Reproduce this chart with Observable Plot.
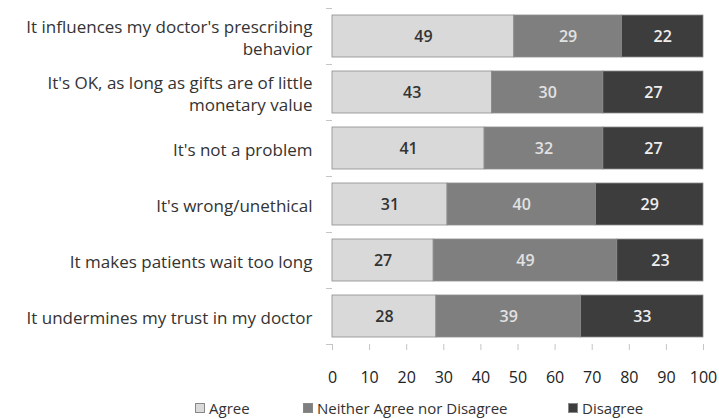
<!DOCTYPE html>
<html>
<head>
<meta charset="utf-8">
<script src="https://cdn.jsdelivr.net/npm/d3@7"></script>
<script src="https://cdn.jsdelivr.net/npm/@observablehq/plot@0.6"></script>
<style>
  html, body { margin: 0; padding: 0; background: #fff; }
  #wrap { position: relative; width: 719px; height: 419px; font-family: "Open Sans", sans-serif; color: #333; }
  #legend { position: absolute; left: 0; top: 398px; width: 719px; height: 20px; font-size: 15px; }
  .item { position: absolute; top: 0; display: flex; align-items: center; height: 20px; }
  .sw { width: 10px; height: 10px; margin-right: 4px; box-sizing: border-box; border: 1px solid #888; }
</style>
</head>
<body>
<div id="wrap"><div id="chart"></div><div id="legend"></div></div>
<script>
const categories = [
  "It influences my doctor's prescribing behavior",
  "It's OK, as long as gifts are of little monetary value",
  "It's not a problem",
  "It's wrong/unethical",
  "It makes patients wait too long",
  "It undermines my trust in my doctor"
];
const categoryLabels = [
  "It influences my doctor's prescribing\nbehavior",
  "It's OK, as long as gifts are of little\nmonetary value",
  "It's not a problem",
  "It's wrong/unethical",
  "It makes patients wait too long",
  "It undermines my trust in my doctor"
];
const responses = ["Agree", "Neither Agree nor Disagree", "Disagree"];
const agree = [49, 43, 41, 31, 27, 28];
const neither = [29, 30, 32, 40, 49, 39];
const disagree = [22, 27, 27, 29, 23, 33];
const colors = ["#d9d9d9", "#7f7f7f", "#3d3d3d"];
const textColors = ["#333333", "#e2e2e2", "#eeeeee"];
const xTicks = [0, 10, 20, 30, 40, 50, 60, 70, 80, 90, 100];

const series = [agree, neither, disagree];
const data = [];
categories.forEach((c, i) => {
  responses.forEach((r, j) => data.push({category: c, response: r, value: series[j][i]}));
});
const labelOf = new Map(categories.map((c, i) => [c, categoryLabels[i]]));

// 100% stacked bars (each row normalized to 100%)
const stackOpts = {x: "value", y: "category", z: "response", order: responses, offset: "normalize"};

const plot = Plot.plot({
  width: 719,
  height: 396,
  marginLeft: 332,
  marginRight: 16,
  marginTop: 8,
  marginBottom: 52,
  style: {fontFamily: "'Open Sans', sans-serif", background: "#fff"},
  x: {domain: [0, 1]},
  y: {domain: categories, paddingInner: 0.25, paddingOuter: 0.125},
  color: {domain: responses, range: colors},
  marks: [
    Plot.barX(data, Plot.stackX({...stackOpts, fill: "response", stroke: "#8c8c8c", strokeWidth: 0.8})),
    ...responses.map((r, j) =>
      Plot.text(data, Plot.stackX({...stackOpts, text: d => d.response === r ? String(d.value) : "", fill: textColors[j], fontSize: 16, fontWeight: 600}))
    ),
    Plot.axisX({ticks: xTicks.map(t => t / 100), tickFormat: d => String(Math.round(d * 100)), tickSize: 6, tickPadding: 21, fontSize: 16, stroke: "#c4c4c4", color: "#222", line: true, label: null}),
    Plot.axisY({tickSize: 0, tickPadding: 20, fontSize: 17, lineHeight: 1.3, line: true, stroke: "#c4c4c4", color: "#333", label: null, tickFormat: d => labelOf.get(d)}),
    Plot.ruleY(categories, {y: d => d, dy: -28, x1: -0.016, x2: 0, stroke: "#c4c4c4"}),
    Plot.ruleY(categories.slice(-1), {y: d => d, dy: 28, x1: -0.016, x2: 0, stroke: "#c4c4c4"})
  ]
});
document.getElementById("chart").appendChild(plot);

const legendX = [195, 303, 568];
const legend = document.getElementById("legend");
responses.forEach((r, j) => {
  const item = document.createElement("div");
  item.className = "item";
  item.style.left = legendX[j] + "px";
  const sw = document.createElement("span");
  sw.className = "sw";
  sw.style.background = colors[j];
  const t = document.createElement("span");
  t.textContent = r;
  item.appendChild(sw);
  item.appendChild(t);
  legend.appendChild(item);
});
</script>
</body>
</html>
